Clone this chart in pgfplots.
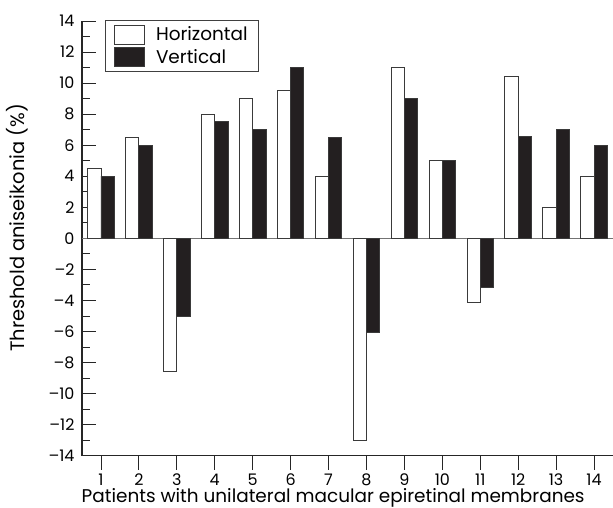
\documentclass[border=0pt]{standalone}
\usepackage{pgfplots}
\pgfplotsset{compat=1.18}
\usepackage{fontspec}
\setmainfont{Poppins}
\definecolor{barblack}{HTML}{231F20}
\definecolor{edge}{HTML}{3A3A3A}
\begin{document}
\begin{tikzpicture}
\useasboundingbox (-82bp,-52.3bp) rectangle (531bp,455.7bp);
\begin{axis}[
  at={(0,0)}, anchor=south west,
  scale only axis,
  width=531bp, height=434.7bp,
  xmin=0.5, xmax=14.5,
  ymin=-14, ymax=14,
  axis x line=bottom, axis y line=left,
  axis line style={-, line width=1.1pt, black!85},
  xtick={1,...,14},
  ytick={-14,-12,...,14},
  yticklabels={–14,–12,–10,–8,–6,–4,–2,0,2,4,6,8,10,12,14},
  minor ytick={-13,-11,...,13},
  tick align=inside,
  major tick length=14bp,
  minor tick length=8bp,
  tick style={line width=0.9pt, black!85},
  tick label style={font=\fontsize{16}{18}\selectfont},
  xticklabel style={anchor=base, yshift=-15.5bp},
  yticklabel style={xshift=-4bp},
  /pgf/number format/assume math mode=true,
  ybar=0pt,
  bar width=13.3bp,
  xlabel={Patients with unilateral macular epiretinal membranes},
  ylabel={Threshold aniseikonia (\%)},
  xlabel style={font=\fontsize{18.5}{22}\selectfont, at={(axis description cs:0.473,-0.1066)}, anchor=base},
  ylabel style={font=\fontsize{19.5}{22}\selectfont, at={(axis description cs:-0.1215,0.524)}, anchor=center},
  legend style={at={(0.043,1.002)}, anchor=north west, draw=black!75, line width=0.8pt,
    font=\fontsize{18.5}{22}\selectfont, row sep=3bp, inner xsep=9bp, inner ysep=4bp,
    legend cell align=left,
    /tikz/every odd column/.append style={column sep=9bp}},
  legend image code/.code={\draw[#1, line width=0.8pt] (0bp,-9.5bp) rectangle (30bp,9.5bp);},
  clip=false,
]
\draw[black!55, line width=0.9pt] (axis cs:0.5,0) -- (axis cs:14.5,0);
\addplot[fill=white, draw=edge, line width=0.9pt] coordinates {
(1,4.5) (2,6.5) (3,-8.6) (4,8) (5,9) (6,9.5) (7,4) (8,-13) (9,11) (10,5) (11,-4.1) (12,10.45) (13,2) (14,4)};
\addplot[fill=barblack, draw=edge, line width=0.9pt] coordinates {
(1,4) (2,6) (3,-5.05) (4,7.5) (5,7) (6,11) (7,6.5) (8,-6.05) (9,9) (10,5) (11,-3.15) (12,6.55) (13,7) (14,6)};
\legend{Horizontal, Vertical}
\end{axis}
\end{tikzpicture}
\end{document}
